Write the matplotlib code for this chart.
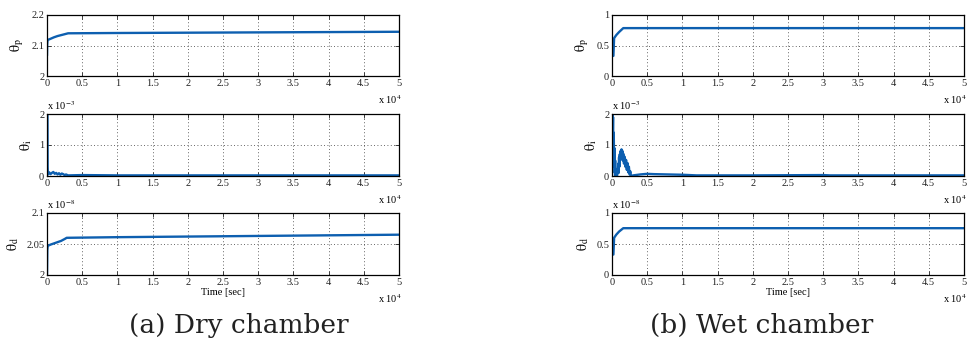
import matplotlib.pyplot as plt
import numpy as np

# time axis in units of 1e4 sec
# ---- dry chamber ----
t_dry_p = [0, 0.003, 0.008, 0.05, 0.1, 0.15, 0.2, 0.25, 0.3, 1, 2, 3, 4, 5]
dry_p = [2.07, 2.105, 2.118, 2.122, 2.127, 2.131, 2.134, 2.137, 2.14, 2.141, 2.142, 2.143, 2.144, 2.145]

t_dry_i = [0, 0.002, 0.006, 0.01, 0.02, 0.03, 0.05, 0.07, 0.09, 0.11, 0.13, 0.15, 0.17,
           0.19, 0.21, 0.23, 0.25, 0.27, 0.3, 0.5, 1, 2, 3, 4, 5]
dry_i = [0, 2.0, 0.3, 0.05, 0.08, 0.12, 0.06, 0.1, 0.13, 0.07, 0.1, 0.05, 0.09,
         0.04, 0.08, 0.06, 0.03, 0.05, 0.02, 0.03, 0.02, 0.02, 0.02, 0.02, 0.02]   # x 1e-3

t_dry_d = [0, 0.004, 0.01, 0.05, 0.1, 0.15, 0.2, 0.25, 0.28, 1, 2, 3, 4, 5]
dry_d = [2.0, 2.04, 2.047, 2.049, 2.051, 2.053, 2.055, 2.058, 2.06, 2.061, 2.062, 2.063, 2.064, 2.065]  # x 1e-8

# ---- wet chamber ----
t_wet_p = [0, 0.02, 0.03, 0.06, 0.1, 0.16, 1, 2, 3, 4, 5]
wet_p = [0.33, 0.33, 0.62, 0.67, 0.72, 0.785, 0.785, 0.785, 0.785, 0.785, 0.785]

t_wet_i = [0, 0.005, 0.01, 0.015, 0.02, 0.025, 0.03, 0.035, 0.04, 0.045, 0.05, 0.06, 0.07,
           0.08, 0.09, 0.095, 0.1, 0.105, 0.11, 0.115, 0.12, 0.125, 0.13, 0.135, 0.14,
           0.145, 0.15, 0.155, 0.16, 0.17, 0.18, 0.19, 0.2, 0.21, 0.22, 0.23, 0.24, 0.25,
           0.26, 0.27, 0.3, 0.4, 0.5, 0.6, 0.8, 1.0, 1.2, 2, 3, 3.1, 4, 5]
wet_i = [0.0, 2.1, 1.2, 1.9, 0.6, 1.4, 0.3, 0.9, 0.1, 0.5, 0.0, 0.2, 0.0,
         0.1, 0.4, 0.1, 0.6, 0.3, 0.7, 0.5, 0.8, 0.55, 0.85, 0.6, 0.85,
         0.6, 0.8, 0.5, 0.72, 0.4, 0.62, 0.3, 0.52, 0.2, 0.42, 0.12, 0.3, 0.05,
         0.15, 0.0, 0.02, 0.05, 0.07, 0.06, 0.05, 0.04, 0.02, 0.02, 0.03, 0.02, 0.02, 0.02]  # x 1e-3

t_wet_d = [0, 0.02, 0.03, 0.06, 0.1, 0.16, 1, 2, 3, 4, 5]
wet_d = [0.33, 0.33, 0.6, 0.65, 0.7, 0.755, 0.755, 0.755, 0.755, 0.755, 0.755]  # x 1e-8

ylabels = [r'$\mathrm{\theta}_{\mathrm{p}}$', r'$\mathrm{\theta}_{\mathrm{i}}$', r'$\mathrm{\theta}_{\mathrm{d}}$']
dry_ylim = [(2, 2.2), (0, 2), (2, 2.1)]
dry_yticks = [[2, 2.1, 2.2], [0, 1, 2], [2, 2.05, 2.1]]
dry_yticklabels = [['2', '2.1', '2.2'], ['0', '1', '2'], ['2', '2.05', '2.1']]
wet_ylim = [(0, 1), (0, 2), (0, 1)]
wet_yticks = [[0, 0.5, 1], [0, 1, 2], [0, 0.5, 1]]
wet_yticklabels = [['0', '0.5', '1'], ['0', '1', '2'], ['0', '0.5', '1']]
exponents = [None, r'x 10$^{-3}$', r'x 10$^{-8}$']
xticks = np.arange(0, 5.01, 0.5)
xticklabels = ['0', '0.5', '1', '1.5', '2', '2.5', '3', '3.5', '4', '4.5', '5']

plt.rcParams['font.family'] = 'Liberation Serif'
plt.rcParams['mathtext.fontset'] = 'stix'
color = '#0d5fb0'

fig = plt.figure(figsize=(9.68, 3.44), dpi=100)
W, H = 968, 344
rows = [(15, 76), (114, 176), (213, 275)]
cols = [(47, 399), (612, 964)]

dry = [(t_dry_p, dry_p), (t_dry_i, dry_i), (t_dry_d, dry_d)]
wet = [(t_wet_p, wet_p), (t_wet_i, wet_i), (t_wet_d, wet_d)]

for c, (panel, ylims, yts, ytls) in enumerate([(dry, dry_ylim, dry_yticks, dry_yticklabels),
                                               (wet, wet_ylim, wet_yticks, wet_yticklabels)]):
    x0, x1 = cols[c]
    for r in range(3):
        y0, y1 = rows[r]
        ax = fig.add_axes([x0 / W, 1 - y1 / H, (x1 - x0) / W, (y1 - y0) / H])
        t, v = panel[r]
        ax.plot(t, v, color=color, lw=1.7)
        ax.set_xlim(0, 5)
        ax.set_ylim(*ylims[r])
        ax.set_xticks(xticks)
        ax.set_xticklabels(xticklabels)
        ax.set_yticks(yts[r])
        ax.set_yticklabels(ytls[r])
        ax.tick_params(direction='in', top=True, right=True, length=3, width=0.6,
                       labelsize=7.5, pad=2, colors='#222222')
        ax.grid(True, linestyle=(0, (1, 3)), color='#333333', lw=0.6)
        for s in ax.spines.values():
            s.set_linewidth(0.9)
        ax.set_ylabel(ylabels[r], fontsize=10, labelpad=4)
        ax.text(0.94, -0.38, r'x 10$^{4}$', transform=ax.transAxes, fontsize=7.5,
                ha='left', va='center')
        if exponents[r]:
            ax.text(0.0, 1.03, exponents[r], transform=ax.transAxes, fontsize=7.5,
                    ha='left', va='bottom')
        if r == 2:
            ax.set_xlabel('Time [sec]', fontsize=7.5, labelpad=1)

fig.text(239 / W, 1 - 325 / H, '(a) Dry chamber', fontsize=19, ha='center', va='center',
         family='DejaVu Serif', color='#222222')
fig.text(762 / W, 1 - 325 / H, '(b) Wet chamber', fontsize=19, ha='center', va='center',
         family='DejaVu Serif', color='#222222')

plt.savefig('out.png', dpi=100)
